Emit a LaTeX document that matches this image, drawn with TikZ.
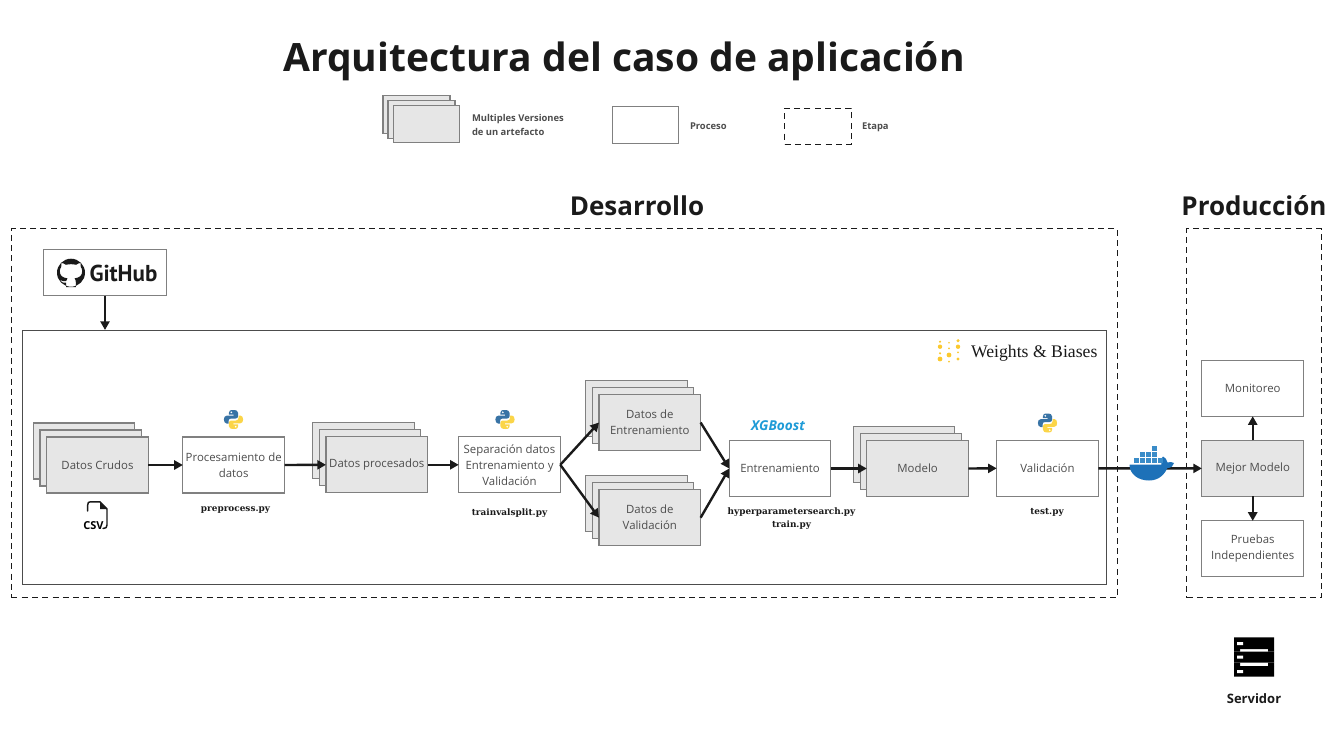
\documentclass[tikz,border=0pt]{standalone}
\usepackage{fontspec}
\setmainfont{Open Sans}
\newfontfamily\slabfont{DejaVu Serif}
\newfontfamily\wbfont{Liberation Serif}
\newfontfamily\ghfont{PT Sans}
\usetikzlibrary{arrows.meta,calc}
\definecolor{edgegray}{HTML}{808080}
\definecolor{fillgray}{HTML}{E6E6E6}
\definecolor{inkdark}{HTML}{1A1A1A}
\definecolor{txtgray}{HTML}{4D4D4D}
\definecolor{pyblue}{HTML}{3873A5}
\definecolor{pyyellow}{HTML}{FBD548}
\definecolor{wbyellow}{HTML}{FBC92F}
\definecolor{dockblue}{HTML}{1D71B8}
\definecolor{dockcell}{HTML}{3A8CC8}
\definecolor{xgblue}{HTML}{1E9BD7}
\newcommand{\pxfont}[2]{\fontsize{\dimexpr#1pt*3/4\relax}{\dimexpr#2pt*3/4\relax}\selectfont}
\tikzset{
 x=0.75pt,y=-0.75pt,
 every node/.style={inner sep=0pt,outer sep=0pt},
 boxbase/.style={draw=edgegray,line width=0.85pt,minimum width=76.2pt,minimum height=42pt,align=center,text=txtgray,font=\pxfont{11.4}{16}},
 procbox/.style={boxbase,fill=white},
 artbox/.style={boxbase,fill=fillgray},
 stage/.style={draw=inkdark,line width=0.75pt,dash pattern=on 4.5pt off 3.2pt},
 flow/.style={draw=inkdark,line width=1.8pt,-{Triangle[length=6.5pt,width=6.8pt]}},
 scripttxt/.style={font=\slabfont\bfseries\pxfont{8.9}{12.4},text=inkdark,align=center},
 headtxt/.style={font=\bfseries\pxfont{26}{30},text=inkdark},
 legtxt/.style={font=\bfseries\pxfont{9.4}{14},text=txtgray,align=left,anchor=west},
}
\newcommand{\backsheets}[2]{%
 \draw[draw=edgegray,line width=0.85pt,fill=fillgray] (#1-64.3,#2-42) rectangle ++(101.6,56);
 \draw[draw=edgegray,line width=0.85pt,fill=fillgray] (#1-57.5,#2-35) rectangle ++(101.6,56);}
\newcommand{\pylogo}[3]{%
 \begin{scope}[shift={(#2,#3)}]
  \node (#1) at (0,0) {};
  \fill[pyblue] (-0.5,-9.5) .. controls (-4,-9.5) and (-4.6,-8.2) .. (-4.6,-6.5) -- (-4.6,-4.8) -- (0.2,-4.8) -- (0.2,-3.9) -- (-6.6,-3.9) .. controls (-8.8,-3.9) and (-9.6,-2.2) .. (-9.6,0) .. controls (-9.6,2.4) and (-8.6,4) .. (-6.8,4) -- (-5,4) -- (-5,1.6) .. controls (-5,-0.2) and (-3.8,-1) .. (-2.4,-1) -- (2.2,-1) .. controls (3.6,-1) and (4.6,-2) .. (4.6,-3.4) -- (4.6,-6.6) .. controls (4.6,-8.4) and (3,-9.5) .. (-0.5,-9.5) -- cycle;
  \fill[pyyellow] (0.5,9.5) .. controls (4,9.5) and (4.6,8.2) .. (4.6,6.5) -- (4.6,4.8) -- (-0.2,4.8) -- (-0.2,3.9) -- (6.6,3.9) .. controls (8.8,3.9) and (9.6,2.2) .. (9.6,0) .. controls (9.6,-2.4) and (8.6,-4) .. (6.8,-4) -- (5,-4) -- (5,-1.6) .. controls (5,0.2) and (3.8,1) .. (2.4,1) -- (-2.2,1) .. controls (-3.6,1) and (-4.6,2) .. (-4.6,3.4) -- (-4.6,6.6) .. controls (-4.6,8.4) and (-3,9.5) .. (0.5,9.5) -- cycle;
  \fill[white] (-2.2,-7.2) circle (0.95) (2.2,7.2) circle (0.95);
 \end{scope}}
\begin{document}
\begin{tikzpicture}
\useasboundingbox (0,0) rectangle (1333,750);
\fill[white] (0,0) rectangle (1333,750);
% title
\node[font=\bfseries\pxfont{39}{44},text=inkdark] (title) at (624,61) {Arquitectura del caso de aplicación};
% legend
\draw[draw=edgegray,line width=0.85pt,fill=fillgray] (383,95.5) rectangle (450,133.5);
\draw[draw=edgegray,line width=0.85pt,fill=fillgray] (388,100.5) rectangle (455,138.5);
\node[artbox,minimum width=50pt,minimum height=27.75pt] (legart) at (426.5,124) {};
\node[legtxt] (legartt) at (472,124.5) {Multiples Versiones\\de un artefacto};
\node[procbox,minimum width=49.5pt,minimum height=27.75pt] (legproc) at (645.5,125) {};
\node[legtxt] (legproct) at (690,126.5) {Proceso};
\node[stage,minimum width=50pt,minimum height=27pt] (legstage) at (818,126) {};
\node[legtxt] (legstaget) at (862,127.5) {Etapa};
% headings
\node[headtxt] (desa) at (637,206) {Desarrollo};
\node[headtxt] (prod) at (1254,206) {Producción};
% stages
\node[stage,minimum width=829.4pt,minimum height=277pt] (stdev) at (564.4,413.3) {};
\node[stage,minimum width=101pt,minimum height=277pt] (stprod) at (1254,413.3) {};
% W&B frame
\node[draw=black!70,line width=0.7pt,fill=white,minimum width=813pt,minimum height=190.5pt] (wb) at (564.5,457.2) {};
% GitHub
\node[draw=edgegray,line width=0.85pt,fill=white,minimum width=92.5pt,minimum height=34.5pt] (gh) at (105,272.7) {};
\fill[inkdark,even odd rule] (71,272.7) circle (14)
 (66.2,287) -- (66.2,282.5) .. controls (62,283.3) and (60.6,281.3) .. (60,279.6) .. controls (62.5,280.5) and (63,282.2) .. (66.2,281) .. controls (66.4,279.8) and (66.8,279) .. (67.5,278.4) .. controls (62,277.6) and (59.8,275.4) .. (59.8,271) .. controls (59.8,269.4) and (60.4,268) .. (61.2,267) .. controls (60.8,265.6) and (60.9,264.2) .. (61.5,263) .. controls (63,263) and (64.6,263.8) .. (65.9,264.8) .. controls (69,264) and (73,264) .. (76.1,264.8) .. controls (77.4,263.8) and (79,263) .. (80.5,263) .. controls (81.1,264.2) and (81.2,265.6) .. (80.8,267) .. controls (81.6,268) and (82.2,269.4) .. (82.2,271) .. controls (82.2,275.4) and (80,277.6) .. (74.5,278.4) .. controls (75.4,279.2) and (75.8,280.5) .. (75.8,282) -- (75.8,287) -- cycle;
\node[font=\ghfont\bfseries\pxfont{23}{24},text=inkdark,anchor=west] (ghtxt) at (89.5,273.5) {GitHub};
% W&B logo
\foreach \px/\py/\pr in {940/341.7/1.2,940/346.7/2.2,940/353.3/1.2,940/359/2.4,949/342.7/0.9,949/348.3/1.0,949/355/2.4,949/361.7/1.0,958/340.7/1.7,958/346.7/2.2,958/352.3/1.0,958/359/1.6}
 \fill[wbyellow] (\px,\py) circle (\pr);
\node[font=\wbfont\pxfont{17.7}{20},text=inkdark,anchor=west] (wbtxt) at (971,353) {Weights \& Biases};
% stacks
\backsheets{97.5}{465}
\node[artbox] (crudos) at (97.5,465) {Datos Crudos};
\node[procbox] (proc) at (233.7,465) {Procesamiento de\\datos};
\backsheets{376.8}{464.8}
\node[artbox] (proce) at (376.8,464.8) {Datos procesados};
\node[procbox] (sep) at (509.5,464.8) {Separación datos\\Entrenamiento y\\Validación};
\backsheets{649.8}{422.5}
\node[artbox] (dent) at (649.8,422.5) {Datos de\\Entrenamiento};
\backsheets{649.8}{517.7}
\node[artbox] (dval) at (649.8,517.7) {Datos de\\Validación};
\node[procbox] (ent) at (780,468.5) {Entrenamiento};
\backsheets{917.6}{468.5}
\node[artbox] (mod) at (917.6,468.5) {Modelo};
\node[procbox] (val) at (1047.5,468.3) {Validación};
\node[artbox] (mej) at (1252.7,468.4) {Mejor Modelo};
\node[procbox] (mon) at (1252.7,388.2) {Monitoreo};
\node[procbox] (pru) at (1252.7,548.9) {Pruebas\\Independientes};
% script labels
\node[scripttxt] (s1) at (235.5,510.5) {preprocess.py};
\node[scripttxt] (s2) at (509.5,513) {trainvalsplit.py};
\node[scripttxt] (s3) at (791.5,518.5) {hyperparametersearch.py\\train.py};
\node[scripttxt] (s4) at (1047,512.5) {test.py};
% logos
\pylogo{py1}{233.5}{419.5}
\pylogo{py2}{505}{419.5}
\pylogo{py3}{1047.5}{423}
\node[font=\bfseries\itshape\pxfont{13.6}{17},text=xgblue] (xgb) at (778,426) {XGBoost};
% CSV icon
\draw[inkdark,line width=1.1pt,line join=round,line cap=round] (87.7,511) -- (87.7,505) .. controls (87.7,502.5) and (88.5,501.8) .. (90.5,501.8) -- (100,501.8) -- (107,509) -- (107,525) .. controls (107,527.5) and (106,528.5) .. (103,528.5);
\fill[inkdark] (100,501.8) -- (107,509) -- (100,509) -- cycle;
\node[font=\bfseries\pxfont{11}{12},text=black] (csv) at (93.5,526) {CSV};
% server
\fill[black] (1234,637.3) rectangle (1274,649) (1234,651.7) rectangle (1274,662.7) (1234,666) rectangle (1274,676.7);
\fill[black] (1234,649) rectangle (1240,651.7) (1268,649) rectangle (1274,651.7) (1234,662.7) rectangle (1240,666) (1268,662.7) rectangle (1274,666);
\fill[white] (1237,642) rectangle (1243,645) (1237,655.5) rectangle (1243,658.5) (1237,670) rectangle (1243,673);
\node[font=\bfseries\pxfont{13}{15},text=inkdark] (serv) at (1254,699) {Servidor};
% connectors
\coordinate (wbtop) at (105,330);
\draw[flow] (gh.south) -- (wbtop);
\draw[flow] (crudos.east) -- (proc.west);
\draw[flow] (proc.east) -- (proce.west);
\draw[flow] (proce.east) -- (sep.west);
\draw[flow] (sep.east) -- (dent.west);
\draw[flow] (sep.east) -- (dval.west);
\draw[flow] (dent.east) -- (ent.west);
\draw[flow] (dval.east) -- (ent.west);
\draw[flow] (ent.east) -- (mod.west);
\draw[flow] (mod.east) -- (val.west);
\draw[flow] (val.east) -- (mej.west);
\draw[flow] (mej.north) -- (mon.south);
\draw[flow] (mej.south) -- (pru.north);
% docker
\fill[dockblue] (1129.5,464.5) .. controls (1129.5,474) and (1138,480.5) .. (1149,480.5) .. controls (1160,480.5) and (1165,473) .. (1167.5,468) .. controls (1171,468) and (1173.5,466) .. (1174,463) .. controls (1172.5,462) and (1169.5,461.5) .. (1167.5,462.5) .. controls (1167,459.5) and (1165,457.5) .. (1163,456.5) .. controls (1160.5,459) and (1160.5,462) .. (1161.5,464.5) -- cycle;
\foreach \cx/\cy in {1133.5/457.5,1139.5/457.5,1145.5/457.5,1151.5/457.5,1157.5/457.5,1139.5/451.5,1145.5/451.5,1151.5/451.5,1151.5/445.5}
 \fill[dockcell] (\cx,\cy) rectangle ++(5.3,5.3);
\end{tikzpicture}
\end{document}
